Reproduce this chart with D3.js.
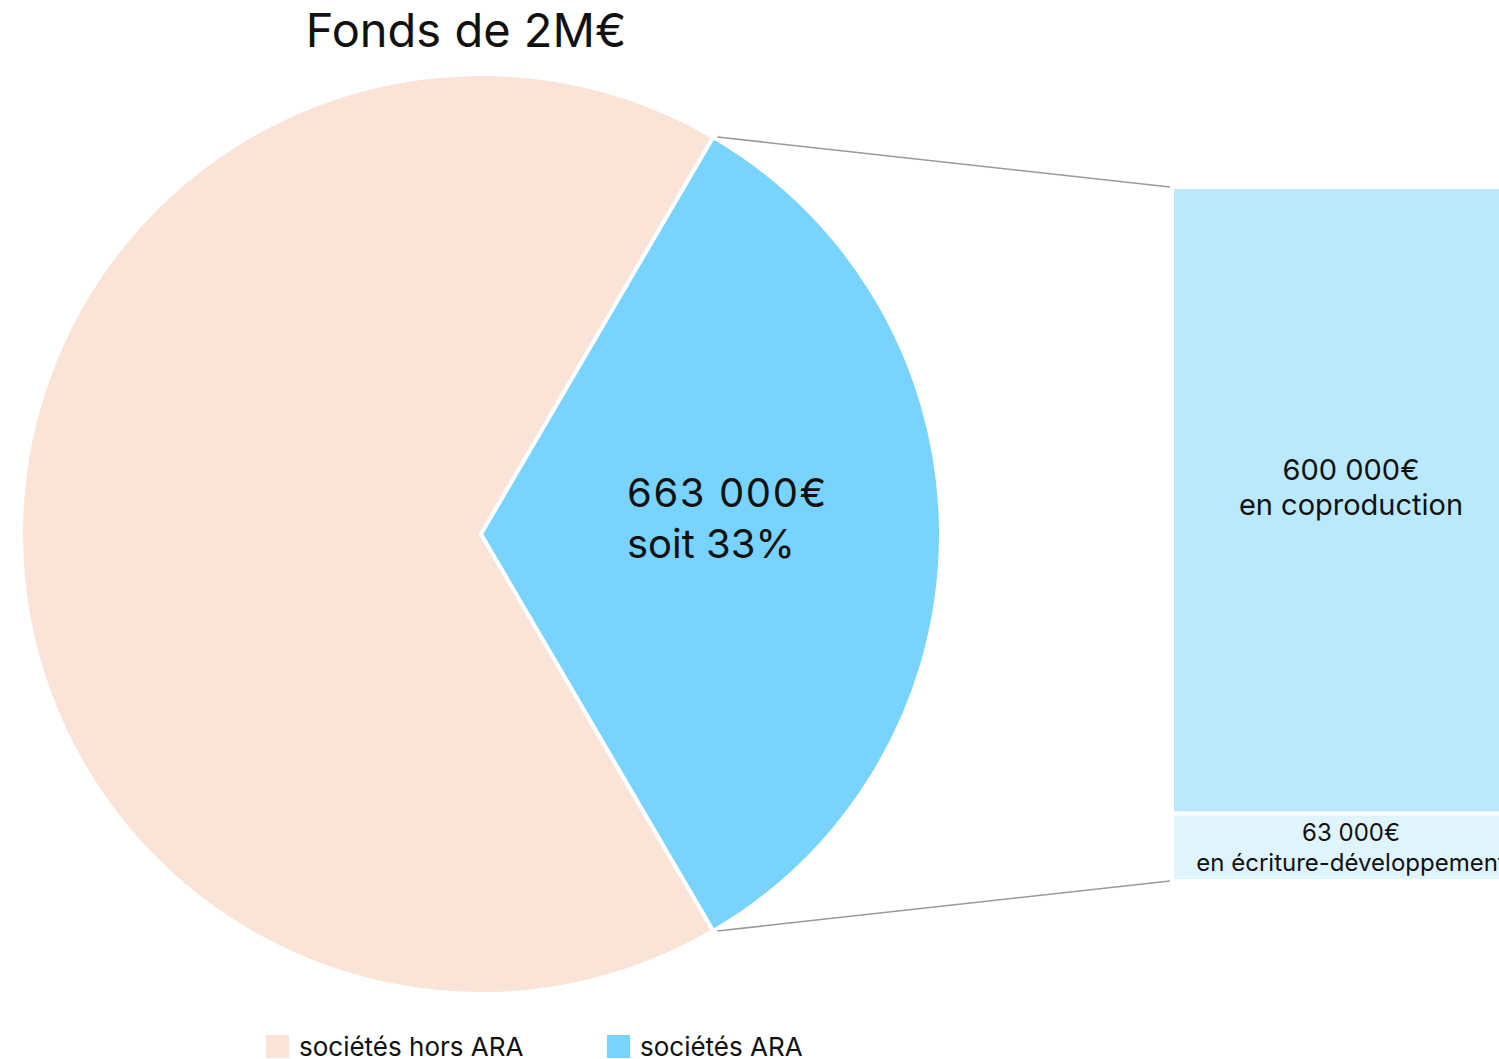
<!DOCTYPE html>
<html>
<head>
<meta charset="utf-8">
<script src="https://cdn.jsdelivr.net/npm/d3@7"></script>
<style>
  html, body { margin: 0; padding: 0; background: #fff; overflow: hidden; }
  text { font-family: Inter, "Liberation Sans", sans-serif; fill: #111; }
</style>
</head>
<body>
<div id="chart"></div>
<script>
// pie data
const pieLabels = ['sociétés hors ARA', 'sociétés ARA'];
const pieValues = [1337000, 663000];
const pieColors = ['#fae4d8', '#78d4ff'];

// breakdown of the ARA slice
const barLabels = ['600 000€|en coproduction', '63 000€|en écriture-développement'];
const barValues = [600000, 63000];
const barColors = ['#bae9fe', '#e0f4fe'];

const width = 1499, height = 1059;
const cx = 481, cy = 534, radius = 460;

const svg = d3.select('#chart')
  .append('svg')
  .attr('width', width)
  .attr('height', height);

// title
svg.append('text')
  .attr('x', 466)
  .attr('y', 47)
  .attr('text-anchor', 'middle')
  .attr('font-size', '47px')
  .text('Fonds de 2M€');

// pie, ARA slice centered on the right side
const araAngle = pieValues[1] / d3.sum(pieValues) * 2 * Math.PI;
const pie = d3.pie()
  .sort(null)
  .startAngle(Math.PI / 2 + araAngle / 2)
  .endAngle(Math.PI / 2 + araAngle / 2 + 2 * Math.PI);

const arc = d3.arc().innerRadius(0).outerRadius(radius);

const pieG = svg.append('g').attr('transform', `translate(${cx}, ${cy})`);

pieG.selectAll('path')
  .data(pie(pieValues))
  .enter()
  .append('path')
  .attr('d', arc)
  .attr('fill', (d, i) => pieColors[i])
  .attr('stroke', '#fff')
  .attr('stroke-width', 4)
  .attr('stroke-linejoin', 'round');

// label inside ARA slice
const araLabel = pieG.append('text')
  .attr('y', -27)
  .attr('font-size', '40px');
araLabel.append('tspan').attr('x', 146).attr('letter-spacing', '1.6px').text('663 000€');
araLabel.append('tspan').attr('x', 146).attr('dy', 51).text('soit ' + Math.round(pieValues[1] / d3.sum(pieValues) * 100) + '%');

// stacked bar
const barX = 1174, barW = 340, barTop = 189, barBottom = 879, gap = 4;
const y = d3.scaleLinear()
  .domain([0, d3.sum(barValues)])
  .range([barTop, barBottom]);

const stacked = [];
let acc = 0;
barValues.forEach((v, i) => {
  stacked.push({ start: acc, end: acc + v, i });
  acc += v;
});

const barG = svg.append('g');
barG.selectAll('rect')
  .data(stacked)
  .enter()
  .append('rect')
  .attr('x', barX)
  .attr('y', d => y(d.start) + (d.i > 0 ? gap / 2 : 0))
  .attr('width', barW)
  .attr('height', d => y(d.end) - y(d.start) - gap / 2)
  .attr('fill', d => barColors[d.i]);

const barText = barG.selectAll('text.bar-label')
  .data(stacked)
  .enter()
  .append('text')
  .attr('class', 'bar-label')
  .attr('text-anchor', 'middle')
  .attr('font-size', d => d.i === 0 ? '29px' : '24px')
  .attr('y', d => d.i === 0 ? (y(d.start) + y(d.end)) / 2 - 21 : y(d.start) + 28);

barText.each(function(d) {
  const parts = barLabels[d.i].split('|');
  const t = d3.select(this);
  t.append('tspan').attr('x', 1351).text(parts[0]);
  t.append('tspan').attr('x', 1351).attr('dy', d.i === 0 ? 35 : 30).text(parts[1]);
});

// connector lines from slice edges to the bar
const edge = a => [cx + radius * Math.sin(a), cy - radius * Math.cos(a)];
const araArc = pie(pieValues)[1];
const pTop = edge(araArc.startAngle - 2 * Math.PI);
const pBottom = edge(araArc.endAngle - 2 * Math.PI);

svg.append('line')
  .attr('x1', pTop[0] + 4).attr('y1', pTop[1])
  .attr('x2', barX - 4).attr('y2', barTop - 2)
  .attr('stroke', '#9a9a9a').attr('stroke-width', 1.5);
svg.append('line')
  .attr('x1', pBottom[0] + 4).attr('y1', pBottom[1])
  .attr('x2', barX - 4).attr('y2', barBottom + 2)
  .attr('stroke', '#9a9a9a').attr('stroke-width', 1.5);

// legend
const legendX = [266, 607];
const legend = svg.selectAll('g.legend')
  .data(pieLabels)
  .enter()
  .append('g')
  .attr('class', 'legend')
  .attr('transform', (d, i) => `translate(${legendX[i]}, 1035)`);

legend.append('rect')
  .attr('width', 23)
  .attr('height', 23)
  .attr('fill', (d, i) => pieColors[i]);

legend.append('text')
  .attr('x', 33)
  .attr('y', 21)
  .attr('font-size', '26px')
  .text(d => d);
</script>
</body>
</html>
